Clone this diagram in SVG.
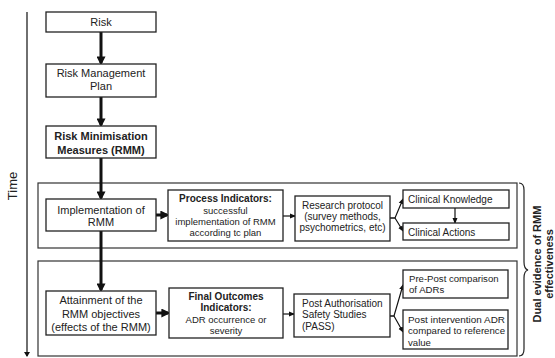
<svg xmlns="http://www.w3.org/2000/svg" width="555" height="358" viewBox="0 0 555 358">
<defs>
<marker id="thick" markerWidth="3" markerHeight="3" refX="2.2" refY="1.5" orient="auto" markerUnits="strokeWidth"><path d="M0,0 L3,1.5 L0,3 z" fill="#111"/></marker>
<marker id="thin" markerWidth="6" markerHeight="6" refX="5" refY="3" orient="auto" markerUnits="userSpaceOnUse"><path d="M0,0.5 L6,3 L0,5.5 z" fill="#111"/></marker>
<marker id="axis" markerWidth="6" markerHeight="6" refX="3" refY="5" orient="0" markerUnits="userSpaceOnUse"><path d="M0,1 L6,1 L3,6 z" fill="#111"/></marker>
</defs>
<style>
.box{fill:#fff;stroke:#222;stroke-width:1.3}
.grp{fill:none;stroke:#333;stroke-width:1.2}
text{font-family:"Liberation Sans",Arial,sans-serif;fill:#222}
.t11{font-size:11px}
.t10{font-size:10px}
.t95{font-size:9.6px}
.t9{font-size:9.5px}
.b{font-weight:bold}
.c{text-anchor:middle}
.thick{stroke:#111;stroke-width:3;fill:none;marker-end:url(#thick)}
.thin{stroke:#111;stroke-width:1.2;fill:none;marker-end:url(#thin)}
</style>
<rect width="555" height="358" fill="#fff"/>

<g id="time-axis">
<line x1="27" y1="12" x2="27" y2="356" stroke="#222" stroke-width="1.3" marker-end="url(#axis)"/>
<text transform="translate(17,186) rotate(-90)" text-anchor="middle" style="font-size:13px">Time</text>
</g>

<g id="group-process"><rect class="grp" x="38" y="183" width="479" height="65"/></g>
<g id="group-outcome"><rect class="grp" x="38" y="261" width="479" height="95"/></g>

<g id="connectors">
<line class="thick" x1="101" y1="32" x2="101" y2="63"/>
<line class="thick" x1="101" y1="97" x2="101" y2="125"/>
<line class="thick" x1="101" y1="158" x2="101" y2="198"/>
<line class="thick" x1="101" y1="231" x2="101" y2="290"/>
<line class="thick" x1="156" y1="215" x2="167" y2="215"/>
<line class="thick" x1="156" y1="313" x2="168" y2="313"/>
<line class="thin" x1="283" y1="216" x2="295" y2="216"/>
<line class="thin" x1="283" y1="314" x2="294" y2="314"/>
<polyline class="thin" points="390,218 395,218 403,199"/>
<polyline class="thin" points="390,218 395,218 403,231"/>
<line class="thin" x1="455" y1="208" x2="455" y2="223"/>
<polyline class="thin" points="390,316 394,316 403,285"/>
<polyline class="thin" points="390,316 394,316 403,332"/>
</g>

<g id="risk">
<rect class="box" x="46" y="12" width="110" height="20"/>
<text class="t11 c" x="101" y="26">Risk</text>
</g>
<g id="rmp">
<rect class="box" x="46" y="64" width="110" height="33"/>
<text class="t11 c" x="101" y="77">Risk Management</text>
<text class="t11 c" x="101" y="90">Plan</text>
</g>
<g id="rmm">
<rect class="box" x="46" y="126" width="110" height="32"/>
<text class="t11 c b" x="101" y="140">Risk Minimisation</text>
<text class="t11 c b" x="101" y="154">Measures (RMM)</text>
</g>
<g id="implementation">
<rect class="box" x="46" y="199" width="110" height="32"/>
<text class="t11 c" x="101" y="214">Implementation of</text>
<text class="t11 c" x="101" y="226">RMM</text>
</g>
<g id="process-indicators">
<rect class="box" x="168" y="190" width="115" height="51"/>
<text class="t10 c b" x="225.5" y="202">Process Indicators:</text>
<text class="t9 c" x="225.5" y="213.5">successful</text>
<text class="t9 c" x="225.5" y="224.5">implementation of RMM</text>
<text class="t9 c" x="225.5" y="235.5">according tc plan</text>
</g>
<g id="research-protocol">
<rect class="box" x="295" y="196" width="95" height="45"/>
<text class="t10 c" x="342.5" y="208.5">Research protocol</text>
<text class="t10 c" x="342.5" y="219.5">(survey methods,</text>
<text class="t10 c" x="342.5" y="230.5">psychometrics, etc)</text>
</g>
<g id="clinical-knowledge">
<rect class="box" x="403" y="190" width="106" height="18"/>
<text class="t10" x="408" y="203">Clinical Knowledge</text>
</g>
<g id="clinical-actions">
<rect class="box" x="403" y="223" width="106" height="17"/>
<text class="t10" x="408" y="235.5">Clinical Actions</text>
</g>
<g id="attainment">
<rect class="box" x="46" y="291" width="110" height="44"/>
<text class="t11 c" x="101" y="304">Attainment of the</text>
<text class="t11 c" x="101" y="317.5">RMM objectives</text>
<text class="t11 c" x="101" y="331">(effects of the RMM)</text>
</g>
<g id="final-outcomes">
<rect class="box" x="169" y="288" width="114" height="50"/>
<text class="t10 c b" x="226" y="300">Final Outcomes</text>
<text class="t10 c b" x="226" y="311">Indicators:</text>
<text class="t9 c" x="226" y="322.5">ADR occurrence or</text>
<text class="t9 c" x="226" y="334">severity</text>
</g>
<g id="pass">
<rect class="box" x="294" y="294" width="96" height="43"/>
<text class="t10" x="302" y="306.5">Post Authorisation</text>
<text class="t10" x="302" y="318">Safety Studies</text>
<text class="t10" x="302" y="329.5">(PASS)</text>
</g>
<g id="pre-post">
<rect class="box" x="403" y="270" width="105" height="28"/>
<text class="t95" x="409" y="281.5">Pre-Post comparison</text>
<text class="t95" x="409" y="293">of ADRs</text>
</g>
<g id="post-intervention">
<rect class="box" x="403" y="310" width="105" height="39"/>
<text class="t95" x="408" y="322.5" textLength="97" lengthAdjust="spacingAndGlyphs">Post intervention ADR</text>
<text class="t95" x="408" y="334" textLength="97" lengthAdjust="spacingAndGlyphs">compared to reference</text>
<text class="t95" x="408" y="345.5">value</text>
</g>

<g id="dual-evidence">
<path d="M519,183 Q524,183 524,190 L524,262 Q524,269 528,270 Q524,271 524,278 L524,349 Q524,356 519,356" fill="none" stroke="#222" stroke-width="1.2"/>
<text class="t11 b c" transform="translate(541,264) rotate(-90)">Dual evidence of RMM</text>
<text class="t11 b c" transform="translate(553,264) rotate(-90)">effectiveness</text>
</g>
</svg>
